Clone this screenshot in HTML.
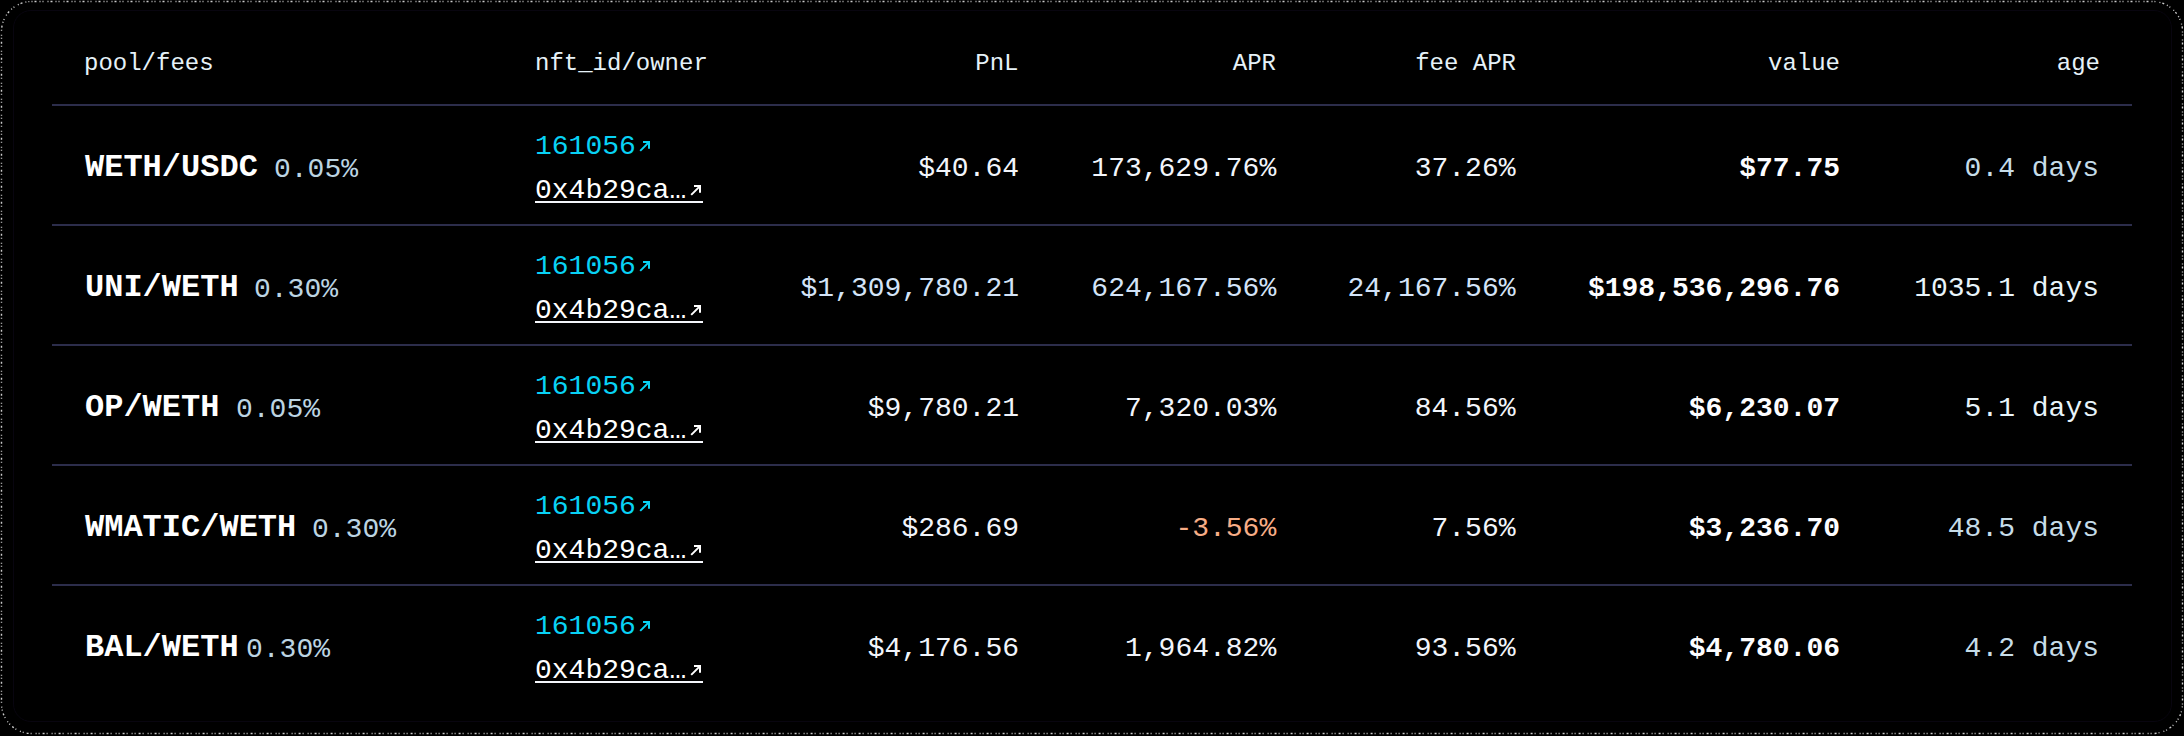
<!DOCTYPE html>
<html><head><meta charset="utf-8"><style>
html,body{margin:0;padding:0;background:#000;}
body{width:2184px;height:736px;position:relative;overflow:hidden;font-family:"Liberation Mono",monospace;}
.card{position:absolute;left:13px;top:10px;width:2157px;height:710px;border:1px solid #08050f;border-radius:18px;}
.t{position:absolute;line-height:1;white-space:pre;}
.ln{position:absolute;left:52px;width:2080px;height:2px;background:#2c2d4b;}
.ul{position:absolute;left:535px;width:168px;height:2px;background:#f4f6fb;}
.ar{position:absolute;overflow:visible;}
.speck{position:absolute;left:0;top:0;}
</style></head><body>
<svg class="speck" width="2184" height="736"><rect x="1.5" y="1.5" width="2181" height="732" rx="30" ry="30" fill="none" stroke="#ffffff" stroke-opacity="0.8" stroke-width="1.4" stroke-dasharray="1 2 2 3 1 2 1 4"/></svg>
<div class="card"></div>
<div class="t" style="left:84px;top:51.61px;font-size:24px;color:#e6f2f8;">pool/fees</div>
<div class="t" style="left:535px;top:51.61px;font-size:24px;color:#e6f2f8;">nft_id/owner</div>
<div class="t" style="right:1165.5px;top:51.61px;font-size:24px;color:#e6f2f8;">PnL</div>
<div class="t" style="right:908px;top:51.61px;font-size:24px;color:#e6f2f8;">APR</div>
<div class="t" style="right:668px;top:51.61px;font-size:24px;color:#e6f2f8;">fee APR</div>
<div class="t" style="right:344px;top:51.61px;font-size:24px;color:#e6f2f8;">value</div>
<div class="t" style="right:84px;top:51.61px;font-size:24px;color:#e6f2f8;">age</div>
<div class="ln" style="top:104px"></div>
<div class="ln" style="top:224px"></div>
<div class="ln" style="top:344px"></div>
<div class="ln" style="top:464px"></div>
<div class="ln" style="top:584px"></div>
<div class="t" style="left:85px;top:152.48px;font-size:32px;color:#ffffff;font-weight:700;">WETH/USDC</div>
<div class="t" style="left:274px;top:156.25px;font-size:28px;color:#bcd4e2;/*noscale*/">0.05%</div>
<div class="t" style="left:535px;top:132.55px;font-size:28px;color:#08d2f5;/*noscale*/">161056</div>
<svg class="ar" style="left:639px;top:140px" width="12" height="12" viewBox="0 0 12 12"><path d="M1.2 10.9 L10 2.1 M4 2.1 H10 V8.7" stroke="#08d2f5" stroke-width="2" fill="none" stroke-linecap="butt"/></svg>
<div class="t" style="left:535px;top:176.55px;font-size:28px;color:#ffffff;/*noscale*/">0x4b29ca…</div>
<svg class="ar" style="left:690px;top:184px" width="12" height="12" viewBox="0 0 12 12"><path d="M1.2 10.9 L10 2.1 M4 2.1 H10 V8.7" stroke="#ffffff" stroke-width="2" fill="none" stroke-linecap="butt"/></svg>
<div class="ul" style="top:201px"></div>
<div class="t" style="right:1165px;top:154.55px;font-size:28px;color:#f2f5fb;">$40.64</div>
<div class="t" style="right:907.8px;top:154.55px;font-size:28px;color:#f2f5fb;">173,629.76%</div>
<div class="t" style="right:668.5px;top:154.55px;font-size:28px;color:#f2f5fb;">37.26%</div>
<div class="t" style="right:344px;top:154.55px;font-size:28px;color:#fdfdff;font-weight:700;">$77.75</div>
<div class="t" style="right:85px;top:154.55px;font-size:28px;color:#c6dce8;">0.4 days</div>
<div class="t" style="left:85px;top:272.48px;font-size:32px;color:#ffffff;font-weight:700;">UNI/WETH</div>
<div class="t" style="left:254px;top:276.25px;font-size:28px;color:#bcd4e2;/*noscale*/">0.30%</div>
<div class="t" style="left:535px;top:252.55px;font-size:28px;color:#08d2f5;/*noscale*/">161056</div>
<svg class="ar" style="left:639px;top:260px" width="12" height="12" viewBox="0 0 12 12"><path d="M1.2 10.9 L10 2.1 M4 2.1 H10 V8.7" stroke="#08d2f5" stroke-width="2" fill="none" stroke-linecap="butt"/></svg>
<div class="t" style="left:535px;top:296.55px;font-size:28px;color:#ffffff;/*noscale*/">0x4b29ca…</div>
<svg class="ar" style="left:690px;top:304px" width="12" height="12" viewBox="0 0 12 12"><path d="M1.2 10.9 L10 2.1 M4 2.1 H10 V8.7" stroke="#ffffff" stroke-width="2" fill="none" stroke-linecap="butt"/></svg>
<div class="ul" style="top:321px"></div>
<div class="t" style="right:1165px;top:274.55px;font-size:28px;color:#d4e4f8;">$1,309,780.21</div>
<div class="t" style="right:907.8px;top:274.55px;font-size:28px;color:#d4e4f8;">624,167.56%</div>
<div class="t" style="right:668.5px;top:274.55px;font-size:28px;color:#d4e4f8;">24,167.56%</div>
<div class="t" style="right:344px;top:274.55px;font-size:28px;color:#fdfdff;font-weight:700;">$198,536,296.76</div>
<div class="t" style="right:85px;top:274.55px;font-size:28px;color:#e8f4fa;">1035.1 days</div>
<div class="t" style="left:85px;top:392.48px;font-size:32px;color:#ffffff;font-weight:700;">OP/WETH</div>
<div class="t" style="left:236px;top:396.25px;font-size:28px;color:#bcd4e2;/*noscale*/">0.05%</div>
<div class="t" style="left:535px;top:372.55px;font-size:28px;color:#08d2f5;/*noscale*/">161056</div>
<svg class="ar" style="left:639px;top:380px" width="12" height="12" viewBox="0 0 12 12"><path d="M1.2 10.9 L10 2.1 M4 2.1 H10 V8.7" stroke="#08d2f5" stroke-width="2" fill="none" stroke-linecap="butt"/></svg>
<div class="t" style="left:535px;top:416.55px;font-size:28px;color:#ffffff;/*noscale*/">0x4b29ca…</div>
<svg class="ar" style="left:690px;top:424px" width="12" height="12" viewBox="0 0 12 12"><path d="M1.2 10.9 L10 2.1 M4 2.1 H10 V8.7" stroke="#ffffff" stroke-width="2" fill="none" stroke-linecap="butt"/></svg>
<div class="ul" style="top:441px"></div>
<div class="t" style="right:1165px;top:394.55px;font-size:28px;color:#f2f5fb;">$9,780.21</div>
<div class="t" style="right:907.8px;top:394.55px;font-size:28px;color:#f2f5fb;">7,320.03%</div>
<div class="t" style="right:668.5px;top:394.55px;font-size:28px;color:#f2f5fb;">84.56%</div>
<div class="t" style="right:344px;top:394.55px;font-size:28px;color:#fdfdff;font-weight:700;">$6,230.07</div>
<div class="t" style="right:85px;top:394.55px;font-size:28px;color:#e8f4fa;">5.1 days</div>
<div class="t" style="left:85px;top:512.48px;font-size:32px;color:#ffffff;font-weight:700;">WMATIC/WETH</div>
<div class="t" style="left:312px;top:516.25px;font-size:28px;color:#bcd4e2;/*noscale*/">0.30%</div>
<div class="t" style="left:535px;top:492.55px;font-size:28px;color:#08d2f5;/*noscale*/">161056</div>
<svg class="ar" style="left:639px;top:500px" width="12" height="12" viewBox="0 0 12 12"><path d="M1.2 10.9 L10 2.1 M4 2.1 H10 V8.7" stroke="#08d2f5" stroke-width="2" fill="none" stroke-linecap="butt"/></svg>
<div class="t" style="left:535px;top:536.55px;font-size:28px;color:#ffffff;/*noscale*/">0x4b29ca…</div>
<svg class="ar" style="left:690px;top:544px" width="12" height="12" viewBox="0 0 12 12"><path d="M1.2 10.9 L10 2.1 M4 2.1 H10 V8.7" stroke="#ffffff" stroke-width="2" fill="none" stroke-linecap="butt"/></svg>
<div class="ul" style="top:561px"></div>
<div class="t" style="right:1165px;top:514.55px;font-size:28px;color:#f2f5fb;">$286.69</div>
<div class="t" style="right:907.8px;top:514.55px;font-size:28px;color:#f7ad86;">-3.56%</div>
<div class="t" style="right:668.5px;top:514.55px;font-size:28px;color:#f2f5fb;">7.56%</div>
<div class="t" style="right:344px;top:514.55px;font-size:28px;color:#fdfdff;font-weight:700;">$3,236.70</div>
<div class="t" style="right:85px;top:514.55px;font-size:28px;color:#c6dce8;">48.5 days</div>
<div class="t" style="left:85px;top:632.48px;font-size:32px;color:#ffffff;font-weight:700;">BAL/WETH</div>
<div class="t" style="left:246px;top:636.25px;font-size:28px;color:#bcd4e2;/*noscale*/">0.30%</div>
<div class="t" style="left:535px;top:612.55px;font-size:28px;color:#08d2f5;/*noscale*/">161056</div>
<svg class="ar" style="left:639px;top:620px" width="12" height="12" viewBox="0 0 12 12"><path d="M1.2 10.9 L10 2.1 M4 2.1 H10 V8.7" stroke="#08d2f5" stroke-width="2" fill="none" stroke-linecap="butt"/></svg>
<div class="t" style="left:535px;top:656.55px;font-size:28px;color:#ffffff;/*noscale*/">0x4b29ca…</div>
<svg class="ar" style="left:690px;top:664px" width="12" height="12" viewBox="0 0 12 12"><path d="M1.2 10.9 L10 2.1 M4 2.1 H10 V8.7" stroke="#ffffff" stroke-width="2" fill="none" stroke-linecap="butt"/></svg>
<div class="ul" style="top:681px"></div>
<div class="t" style="right:1165px;top:634.55px;font-size:28px;color:#f2f5fb;">$4,176.56</div>
<div class="t" style="right:907.8px;top:634.55px;font-size:28px;color:#f2f5fb;">1,964.82%</div>
<div class="t" style="right:668.5px;top:634.55px;font-size:28px;color:#f2f5fb;">93.56%</div>
<div class="t" style="right:344px;top:634.55px;font-size:28px;color:#fdfdff;font-weight:700;">$4,780.06</div>
<div class="t" style="right:85px;top:634.55px;font-size:28px;color:#c6dce8;">4.2 days</div>
</body></html>
